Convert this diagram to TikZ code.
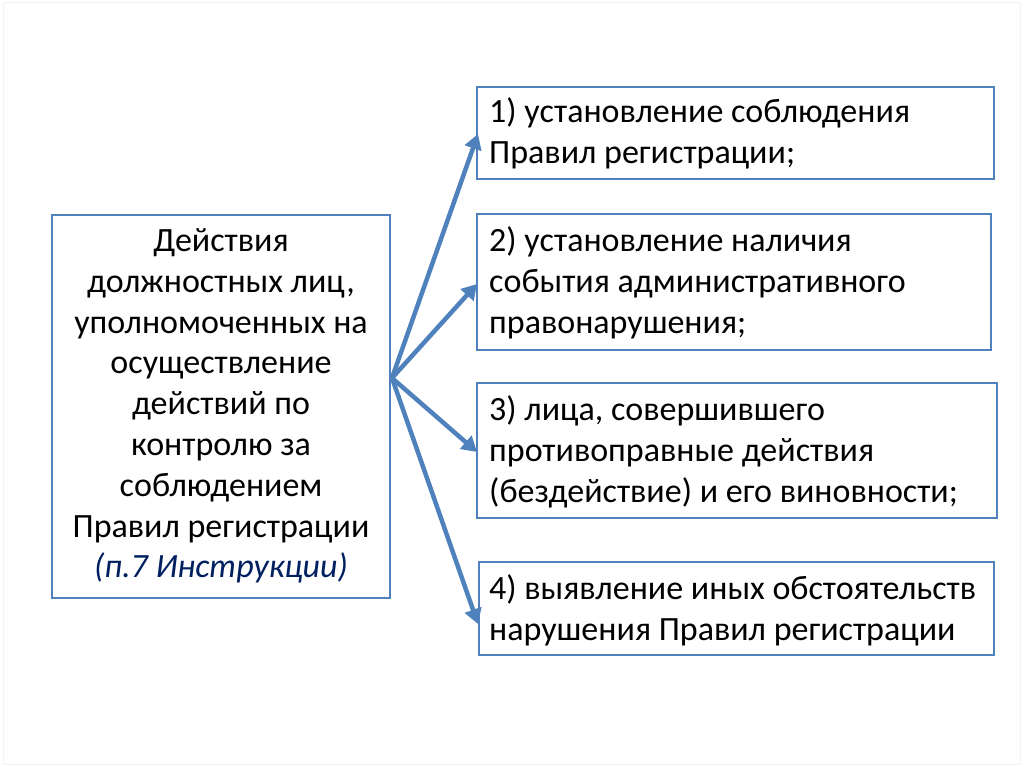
\documentclass[tikz,border=0pt]{standalone}
\usepackage{fontspec}
\setmainfont{Carlito}
\usetikzlibrary{arrows.meta}
\definecolor{obl}{RGB}{79,129,189}
\definecolor{navyit}{RGB}{0,32,96}
\tikzset{
  bx/.style={draw=obl, line width=2.8pt, fill=white},
  txt/.style={font=\fontsize{34}{40.8}\selectfont, inner sep=0pt, text=black},
  arr/.style={draw=obl, line width=4.5pt, -{Triangle[length=15pt,width=17pt]}, shorten >=0pt}
}
\begin{document}
\begin{tikzpicture}[x=1pt,y=-1pt]
\useasboundingbox (0,0) rectangle (1024,767);
\draw[black!5, line width=1pt] (3,3) rectangle (1020,764);
% boxes
\draw[bx] (52,215) rectangle (390,598);
\draw[bx] (477,87) rectangle (994,179);
\draw[bx] (477,214) rectangle (991,350);
\draw[bx] (477,383) rectangle (997,518);
\draw[bx] (479,562) rectangle (994,655);
% texts
\node[txt, align=center] (L) at (221,406) {Действия\\должностных лиц,\\уполномоченных на\\осуществление\\действий по\\контролю за\\соблюдением\\Правил регистрации\\{\color{navyit}\itshape (п.7 Инструкции)}};
\node[txt, align=left, anchor=west] (A) at (489,133) {1) установление соблюдения\\Правил регистрации;};
\node[txt, align=left, anchor=west] (B) at (489,283) {2) установление наличия\\события административного\\правонарушения;};
\node[txt, align=left, anchor=west] (C) at (489,452) {3) лица, совершившего\\противоправные действия\\(бездействие) и его виновности;};
\node[txt, align=left, anchor=west] (D) at (489,610) {4) выявление иных обстоятельств\\нарушения Правил регистрации};
% arrows
\coordinate (O) at (392,378);
\coordinate (t1) at (478,134);
\coordinate (t2) at (477,284);
\coordinate (t3) at (477,452);
\coordinate (t4) at (478,624);
\draw[arr] (O) -- (t1);
\draw[arr] (O) -- (t2);
\draw[arr] (O) -- (t3);
\draw[arr] (O) -- (t4);
\end{tikzpicture}
\end{document}
